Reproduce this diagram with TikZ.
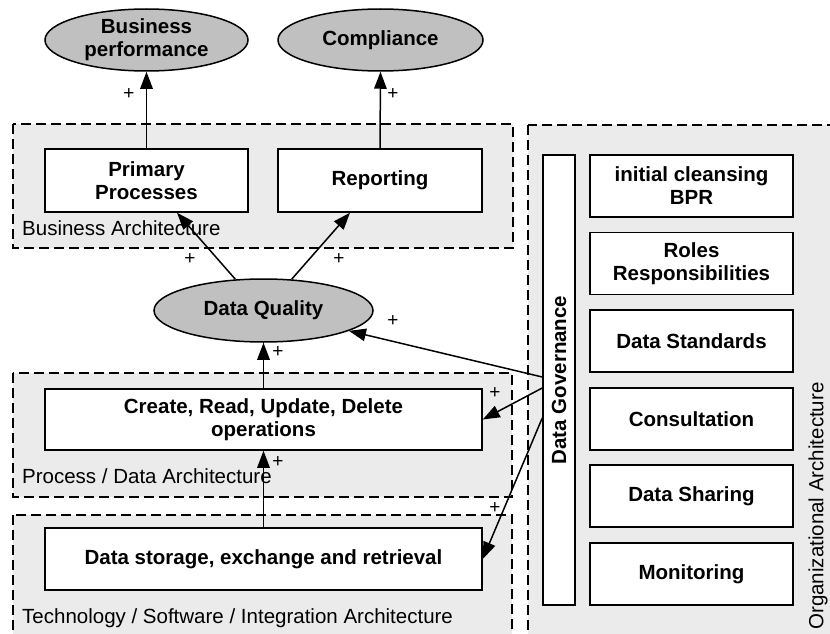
\documentclass[tikz,border=0pt]{standalone}
\usepackage{fontspec}
\setmainfont{Liberation Sans}
\usetikzlibrary{shapes.geometric,arrows.meta,calc}
\definecolor{areafill}{HTML}{EBEBEB}
\definecolor{ellfill}{HTML}{C0C0C0}
\newcommand\bt{\fontsize{20.5}{23}\selectfont\bfseries}
\newcommand\nt{\fontsize{20.5}{23}\selectfont}
\newcommand\plusfont{\fontsize{19}{19}\selectfont}
\tikzset{
  area/.style={draw, fill=areafill, line width=1.4pt, dash pattern=on 10pt off 5pt},
  box/.style={draw, fill=white, line width=1.5pt, font=\bt, align=center, inner sep=0pt},
  ell/.style={ellipse, draw, fill=ellfill, line width=1.5pt, font=\bt, align=center, inner sep=0pt},
  lbl/.style={font=\nt, inner sep=0pt},
  plus/.style={font=\plusfont, inner sep=0pt},
  arr/.style={line width=1.5pt, -{Triangle[length=17pt,width=12.5pt]}},
  rbox/.style={box, minimum width=203pt, minimum height=62pt}
}
\begin{document}
\begin{tikzpicture}[x=1pt,y=-1pt]
\useasboundingbox (0,0) rectangle (830,634);
\clip (0,0) rectangle (830,634);
\fill[white] (0,0) rectangle (830,634);
% areas
\draw[area] (13,124) rectangle (513,248);
\draw[area] (13,373) rectangle (512,497);
\draw[area] (13,515) rectangle (512,660);
\draw[area] (528,125) rectangle (860,660);
% area labels
\node[lbl, anchor=base west] (bal) at (22,235) {Business Architecture};
\node[lbl, anchor=base west] (pal) at (22,483) {Process / Data Architecture};
\node[lbl, anchor=base west] (tal) at (22,623) {Technology / Software / Integration Architecture};
\node[lbl, rotate=90] (orgl) at (818,506) {Organizational Architecture};
% nodes
\node[ell, minimum width=203pt, minimum height=62pt] (bp) at (146.5,40) {Business\\performance};
\node[ell, minimum width=205pt, minimum height=62pt] (comp) at (380.5,40) {Compliance};
\node[box, minimum width=203pt, minimum height=63pt] (pp) at (146.5,180.5) {Primary\\Processes};
\node[box, minimum width=204pt, minimum height=63pt] (rep) at (380,180.5) {Reporting};
\node[ell, minimum width=219pt, minimum height=63pt] (dq) at (263.5,310.5) {Data Quality};
\node[box, minimum width=437pt, minimum height=61pt] (crud) at (263.5,419.5) {Create, Read, Update, Delete\\operations};
\node[box, minimum width=437pt, minimum height=62pt] (ds) at (263.5,559) {Data storage, exchange and retrieval};
\node[box, minimum width=32pt, minimum height=450pt] (gov) at (559,380) {};
\node[font=\bt, rotate=90, inner sep=0pt] (govl) at (gov.center) {Data Governance};
\node[rbox] (r1) at (691.5,186) {initial cleansing\\BPR};
\node[rbox] (r2) at (691.5,263.5) {Roles\\Responsibilities};
\node[rbox] (r3) at (691.5,341) {Data Standards};
\node[rbox] (r4) at (691.5,419) {Consultation};
\node[rbox] (r5) at (691.5,496) {Data Sharing};
\node[rbox] (r6) at (691.5,574) {Monitoring};
% connector start points on governance
\coordinate (g1) at ($(gov.west)+(0,-3)$);
\coordinate (g2) at ($(gov.west)+(0,8)$);
\coordinate (g3) at ($(gov.west)+(0,38)$);
% connectors
\draw[arr] (pp.north) -- (bp.south);
\draw[arr] (rep.north) -- (comp.south);
\draw[arr] (dq.132) -- ($(pp.south)+(30.5,0)$);
\draw[arr] (dq.48) -- ($(rep.south)+(-30,0)$);
\draw[arr] (crud.north) -- (dq.south);
\draw[arr] (ds.north) -- (crud.south);
\draw[arr] (g1) -- (dq);
\draw[arr] (g2) -- (crud.east);
\draw[arr] (g3) -- (ds.east);
% plus signs
\node[plus] (p1) at (129,94) {+};
\node[plus] (p2) at (393,94) {+};
\node[plus] (p3) at (190,259) {+};
\node[plus] (p4) at (339,259) {+};
\node[plus] (p5) at (393,321) {+};
\node[plus] (p6) at (278,352) {+};
\node[plus] (p7) at (495,393) {+};
\node[plus] (p8) at (278,462) {+};
\node[plus] (p9) at (495,508) {+};
\end{tikzpicture}
\end{document}
